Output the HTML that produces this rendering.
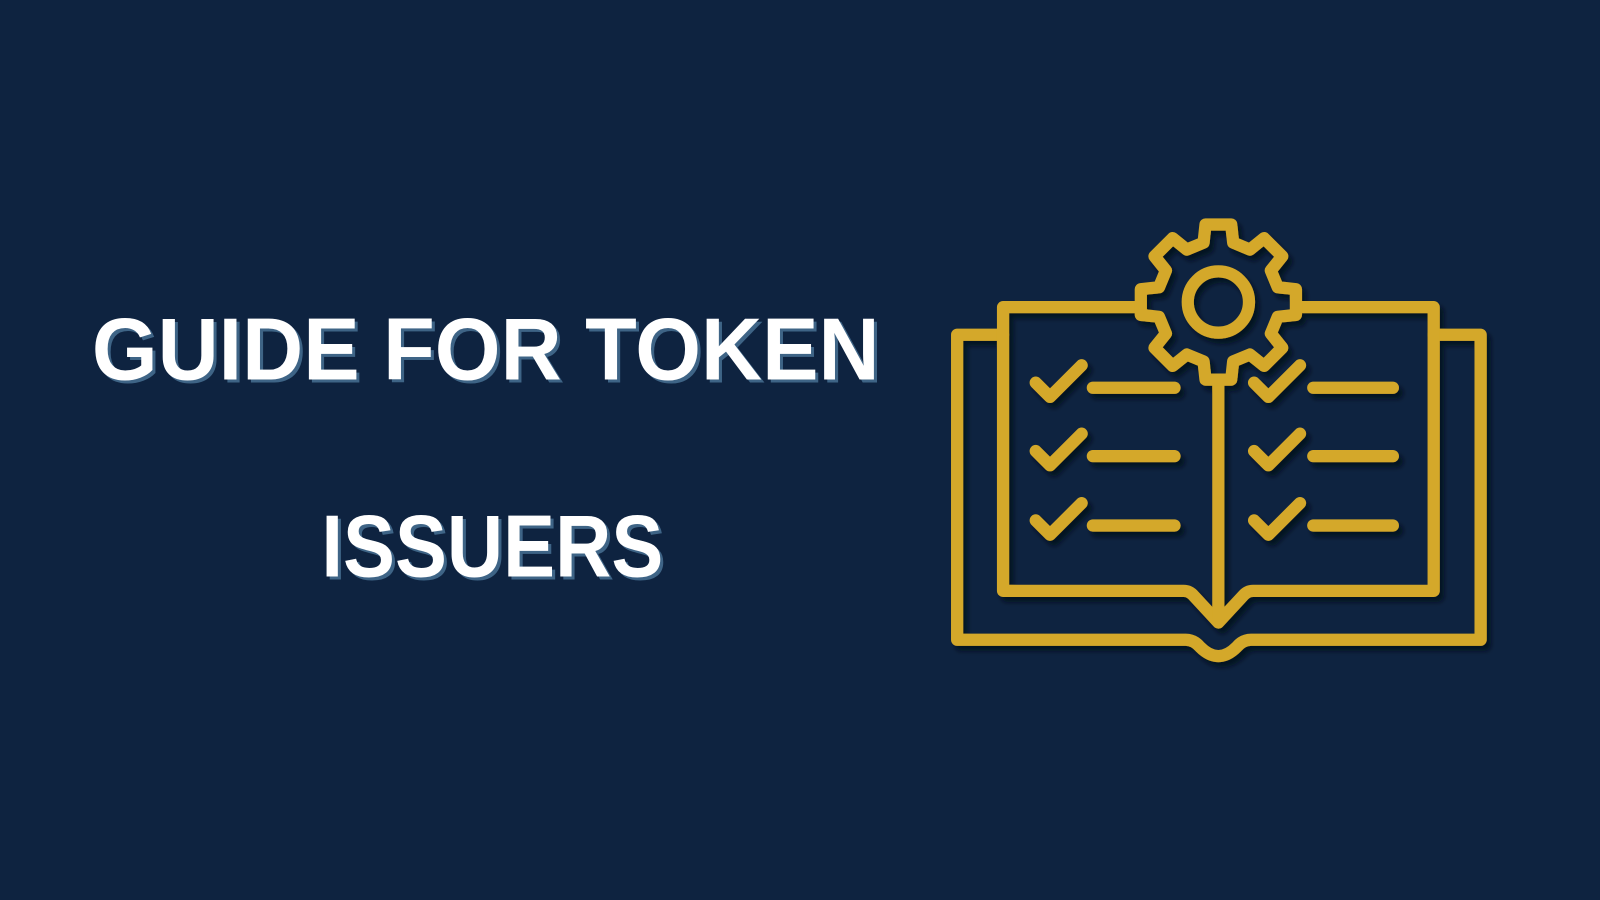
<!DOCTYPE html>
<html>
<head>
<meta charset="utf-8">
<style>
  html,body{margin:0;padding:0;background:#0e2340;width:1600px;height:900px;overflow:hidden;}
  svg{display:block;}
</style>
</head>
<body>
<svg width="1600" height="900" viewBox="0 0 1568 882" xmlns="http://www.w3.org/2000/svg">
  <defs>
    <filter id="sh" x="-10%" y="-10%" width="130%" height="130%">
      <feDropShadow dx="4" dy="5" stdDeviation="2" flood-color="#05101f" flood-opacity="0.8"/>
    </filter>
  </defs>
  <rect x="0" y="0" width="1568" height="882" fill="#0e2340"/>

  <g font-family="'Liberation Sans', sans-serif" font-weight="bold" font-size="86">
    <text x="93" y="375" fill="#3e6486" textLength="772" lengthAdjust="spacingAndGlyphs">GUIDE FOR TOKEN</text>
    <text x="90" y="372" fill="#ffffff" textLength="772" lengthAdjust="spacingAndGlyphs">GUIDE FOR TOKEN</text>
    <text x="318" y="568" fill="#3e6486" textLength="335" lengthAdjust="spacingAndGlyphs">ISSUERS</text>
    <text x="315" y="565" fill="#ffffff" textLength="335" lengthAdjust="spacingAndGlyphs">ISSUERS</text>
  </g>

  <g fill="none" stroke="#d4a829" stroke-width="12" stroke-linecap="round" stroke-linejoin="round" filter="url(#sh)">
    <path d="M983 328 H938 V627 H1162 Q1170 627 1176 634 Q1194 652 1212 634 Q1218 627 1226 627 H1451 V328 H1405"/>
    <path d="M1113 301 H983 V579 H1160 Q1166 579 1170 584 L1194 610 L1218 584 Q1222 579 1228 579 H1405 V301 H1275"/>
    <line x1="1194" y1="378" x2="1194" y2="605"/>
    <path id="gear" d=""/>
    <circle cx="1194" cy="296" r="30"/>
    <g>
      <path d="M1015 375 L1029 389 L1060 358"/><line x1="1071" y1="380" x2="1151" y2="380"/>
      <path d="M1015 442 L1029 456 L1060 425"/><line x1="1071" y1="447" x2="1151" y2="447"/>
      <path d="M1015 510 L1029 524 L1060 493"/><line x1="1071" y1="515" x2="1151" y2="515"/>
    </g>
    <g>
      <path d="M1229 375 L1243 389 L1274 358"/><line x1="1287" y1="380" x2="1365" y2="380"/>
      <path d="M1229 442 L1243 456 L1274 425"/><line x1="1287" y1="447" x2="1365" y2="447"/>
      <path d="M1229 510 L1243 524 L1274 493"/><line x1="1287" y1="515" x2="1365" y2="515"/>
    </g>
  </g>
</svg>
<script>
  (function(){
    var cx=1194, cy=296, rIn=60, rOut=77, n=8, d='';
    var half=Math.PI/n;
    for(var i=0;i<n;i++){
      var a=-Math.PI/2 + i*2*half*1 ;
      var t1=a-half*0.42, t2=a+half*0.42;
      var b1=a-half*0.62, b2=a+half*0.62;
      var pts=[[rIn,b1],[rOut,t1],[rOut,t2],[rIn,b2]];
      pts.forEach(function(p,j){
        var x=cx+p[0]*Math.cos(p[1]), y=cy+p[0]*Math.sin(p[1]);
        d+=(i===0&&j===0?'M':'L')+x.toFixed(1)+' '+y.toFixed(1)+' ';
      });
    }
    d+='Z';
    document.getElementById('gear').setAttribute('d',d);
  })();
</script>
</body>
</html>
